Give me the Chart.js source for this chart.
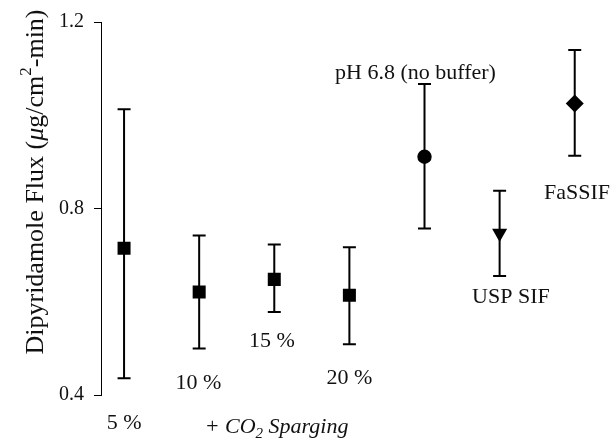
<!DOCTYPE html>
<html>
  <head>
    <title>Dipyridamole Flux</title>
    <style>
      body { margin: 0; background: #fff; }
    </style>
  </head>
  <body>
    <canvas id="fluxChart" width="616" height="438"></canvas>

    <script src="https://cdn.jsdelivr.net/npm/chart.js"></script>
    <script>
      // Medios de disolución y flujo medido
      var conditions = ["5 %", "10 %", "15 %", "20 %", "pH 6.8 (no buffer)", "USP SIF", "FaSSIF"];
      var xPos = [1, 2, 3, 4, 5, 6, 7];
      var fluxMean = [0.715, 0.621, 0.648, 0.614, 0.911, 0.747, 1.025];
      var fluxHigh = [1.013, 0.742, 0.723, 0.717, 1.067, 0.838, 1.14];
      var fluxLow = [0.436, 0.5, 0.578, 0.509, 0.757, 0.655, 0.913];
      var yTicks = [0.4, 0.8, 1.2];
      var markers = ["rect", "rect", "rect", "rect", "circle", "triangle", "rectRot"];

      // anclaje de las etiquetas, en unidades de los ejes
      var labelX = [1.0, 1.99, 2.97, 4.0, 4.88, 6.15, 7.03];
      var labelY = [0.327, 0.413, 0.503, 0.424, 1.078, 0.597, 0.821];
      var spargingX = 3.03;
      var spargingY = 0.319;

      var serif = "'Liberation Serif', 'Times New Roman', serif";

      // dibuja texto en trozos (subíndices, superíndices, cursiva), centrado en x
      function drawPieces(ctx, pieces, x, y) {
        var total = 0;
        pieces.forEach(function (p) {
          ctx.font = p.f;
          total += ctx.measureText(p.t).width;
        });
        var cx = x - total / 2;
        ctx.textAlign = "left";
        pieces.forEach(function (p) {
          ctx.font = p.f;
          ctx.fillText(p.t, cx, y + (p.dy || 0));
          cx += ctx.measureText(p.t).width;
        });
      }

      var errorBars = {
        id: "errorBars",
        beforeDatasetsDraw: function (chart) {
          var xs = chart.scales.x;
          var ys = chart.scales.y;
          var ctx = chart.ctx;
          ctx.save();
          ctx.strokeStyle = "#000";
          ctx.lineWidth = 2;
          xPos.forEach(function (v, i) {
            var px = xs.getPixelForValue(v);
            var top = ys.getPixelForValue(fluxHigh[i]);
            var bot = ys.getPixelForValue(fluxLow[i]);
            ctx.beginPath();
            ctx.moveTo(px, top);
            ctx.lineTo(px, bot);
            ctx.moveTo(px - 6.5, top);
            ctx.lineTo(px + 6.5, top);
            ctx.moveTo(px - 6.5, bot);
            ctx.lineTo(px + 6.5, bot);
            ctx.stroke();
          });
          ctx.restore();
        },
      };

      var textLabels = {
        id: "textLabels",
        afterDraw: function (chart) {
          var xs = chart.scales.x;
          var ys = chart.scales.y;
          var ctx = chart.ctx;
          ctx.save();
          ctx.fillStyle = "#111";
          ctx.textBaseline = "alphabetic";
          ctx.textAlign = "center";
          ctx.font = "22px " + serif;
          conditions.forEach(function (c, i) {
            ctx.fillText(c, xs.getPixelForValue(labelX[i]), ys.getPixelForValue(labelY[i]));
          });

          drawPieces(
            ctx,
            [
              { t: "+ CO", f: "italic 22px " + serif },
              { t: "2", f: "italic 15px " + serif, dy: 5 },
              { t: " Sparging", f: "italic 22px " + serif },
            ],
            xs.getPixelForValue(spargingX),
            ys.getPixelForValue(spargingY)
          );

          // título del eje y
          ctx.translate(36, 182);
          ctx.rotate(-Math.PI / 2);
          ctx.textBaseline = "middle";
          drawPieces(
            ctx,
            [
              { t: "Dipyridamole Flux (", f: "26px " + serif },
              { t: "\u03bc", f: "italic 26px " + serif },
              { t: "g/cm", f: "26px " + serif },
              { t: "2", f: "17px " + serif, dy: -9 },
              { t: "-min)", f: "26px " + serif },
            ],
            0,
            0
          );
          ctx.restore();
        },
      };

      new Chart(document.getElementById("fluxChart"), {
        type: "scatter",
        data: {
          datasets: [
            {
              data: xPos.map(function (v, i) {
                return { x: v, y: fluxMean[i] };
              }),
              pointStyle: markers,
              rotation: [0, 0, 0, 0, 0, 180, 0],
              pointRadius: [9.2, 9.2, 9.2, 9.2, 7.2, 8.7, 9],
              pointHoverRadius: [9.2, 9.2, 9.2, 9.2, 7.2, 8.7, 9],
              backgroundColor: "#000",
              borderColor: "#000",
              borderWidth: 0,
            },
          ],
        },
        options: {
          responsive: false,
          animation: false,
          layout: { padding: { top: 22, bottom: 43, left: 0, right: 0 } },
          plugins: { legend: { display: false }, tooltip: { enabled: false } },
          scales: {
            x: { type: "linear", min: 0.693, max: 7.427, display: false },
            y: {
              min: 0.4,
              max: 1.2,
              afterBuildTicks: function (s) {
                s.ticks = yTicks.map(function (v) {
                  return { value: v };
                });
              },
              afterFit: function (s) {
                s.width = 101;
              },
              ticks: {
                color: "#111",
                padding: 10,
                font: { family: serif, size: 20 },
                callback: function (v) {
                  return Number(v).toFixed(1);
                },
              },
              grid: { drawOnChartArea: false, tickLength: 7, color: "#000" },
              border: { color: "#000", width: 1 },
            },
          },
        },
        plugins: [errorBars, textLabels],
      });
    </script>
  </body>
</html>
